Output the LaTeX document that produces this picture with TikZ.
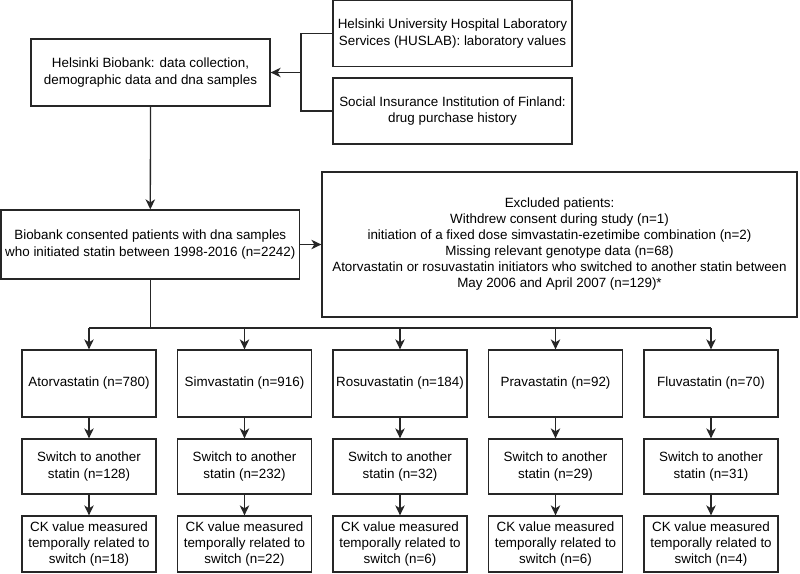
\documentclass[tikz,border=0pt]{standalone}
\usepackage{fontspec}
\setmainfont{Liberation Sans}
\usetikzlibrary{arrows.meta}
\begin{document}
\begin{tikzpicture}[x=1pt,y=-1pt,
  box/.style={draw=black!85,line width=1.3pt,rectangle,inner sep=0pt,align=center,
    font=\fontsize{13.4}{16.8}\selectfont},
  conn/.style={line width=1.3pt,black!85},
  arr/.style={conn,-{Stealth[length=10pt,width=9.5pt,inset=3pt]}}]
\useasboundingbox (0,0) rectangle (800,573);
\fill[white] (0,0) rectangle (800,573);
\node[box,minimum width=239pt,minimum height=67pt] (bio) at (150.5,72.5)
  {Helsinki Biobank: data collection,\\demographic data and dna samples};
\node[box,minimum width=239pt,minimum height=66pt] (hus) at (452.5,33.6)
  {Helsinki University Hospital Laboratory\\Services (HUSLAB): laboratory values};
\node[box,minimum width=239pt,minimum height=66pt] (sii) at (452.5,111)
  {Social Insurance Institution of Finland:\\drug purchase history};
\node[box,minimum width=298.5pt,minimum height=69pt] (cons) at (150.3,244.5)
  {Biobank consented patients with dna samples\\who initiated statin between 1998-2016 (n=2242)};
\node[box,minimum width=475pt,minimum height=145pt,font=\fontsize{13.4}{16}\selectfont] (excl) at (559.5,244.5)
  {Excluded patients:\\Withdrew consent during study (n=1)\\initiation of a fixed dose simvastatin-ezetimibe combination (n=2)\\Missing relevant genotype data (n=68)\\Atorvastatin or rosuvastatin initiators who switched to another statin between\\May 2006 and April 2007 (n=129)*};
\coordinate (j) at (301,72.5);
\draw[conn] (hus.west) -| (j);
\draw[conn] (sii.west) -| (j);
\draw[arr] (j) -- (bio.east);
\draw[arr] (bio.south) -- (cons.north);
\draw[arr] (cons.east) -- (excl.west);
\coordinate (b) at (150.3,328);
\draw[conn] (cons.south) -- (b);
\foreach \i/\x/\sname/\sw/\ck in {1/89/Atorvastatin (n=780)/128/18,
  2/244.5/Simvastatin (n=916)/232/22,
  3/400/Rosuvastatin (n=184)/32/6,
  4/555.5/Pravastatin (n=92)/29/6,
  5/711/Fluvastatin (n=70)/31/4}{
  \node[box,minimum width=134pt,minimum height=67pt] (s\i) at (\x,383.5) {\sname};
  \node[box,minimum width=134pt,minimum height=55pt] (w\i) at (\x,466.5) {Switch to another\\statin (n=\sw)};
  \node[box,minimum width=134pt,minimum height=56pt,font=\fontsize{13.4}{16}\selectfont] (c\i) at (\x,544) {CK value measured\\temporally related to\\switch (n=\ck)};
  \coordinate (t\i) at (\x,328);
  \draw[arr] (t\i) -- (s\i.north);
  \draw[arr] (s\i.south) -- (w\i.north);
  \draw[arr] (w\i.south) -- (c\i.north);
}
\draw[conn] (t1) -- (t5);
\end{tikzpicture}
\end{document}
